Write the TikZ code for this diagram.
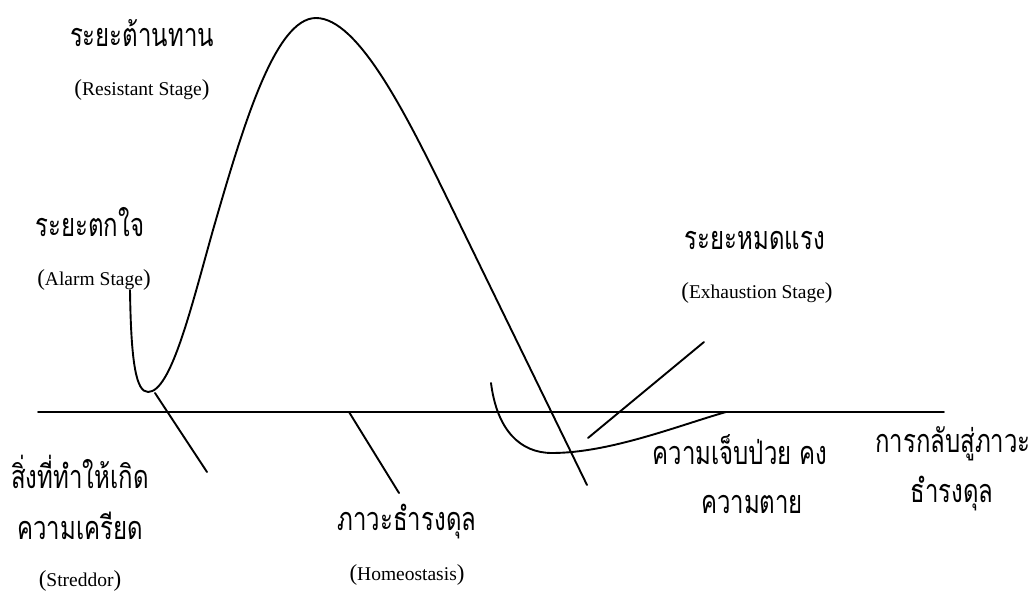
\documentclass[tikz,border=0pt]{standalone}
\usepackage{fontspec}
\usepackage{graphicx}
\setmainfont{Liberation Serif}
\newfontfamily\thai[Script=Thai]{Loma}
\newcommand\pr[1]{{\fontsize{23}{26}\selectfont(}#1{\fontsize{23}{26}\selectfont)}}
\newcommand\T[1]{\scalebox{1}[1.35]{#1}}
\tikzset{
  th/.style={font=\thai\fontsize{24}{28}\selectfont, inner sep=0pt, anchor=base},
  en/.style={font=\fontsize{19.5}{23}\selectfont, inner sep=0pt, anchor=base},
  curve/.style={line width=1.9pt, line join=round, line cap=round},
}
\begin{document}
\begin{tikzpicture}[x=1pt,y=-1pt]
\useasboundingbox (0,0) rectangle (1031,591);
% coordinates
\coordinate (bl) at (38,412);
\coordinate (br) at (944,412);
\coordinate (s1) at (155,393);
\coordinate (s2) at (207,472);
\coordinate (h1) at (349,412);
\coordinate (h2) at (399,493);
\coordinate (e1) at (588,438);
\coordinate (e2) at (704,342);
\coordinate (x0) at (491,383);
\coordinate (x1) at (552,453);
\coordinate (x2) at (726,412);
\coordinate (m0) at (130,290);
\coordinate (m1) at (148,392);
\coordinate (m2) at (213,230);
\coordinate (m3) at (316,18);
\coordinate (m4) at (448,200);
\coordinate (m5) at (587,485);
% baseline
\draw[curve] (bl) -- (br);
% main curve
\draw[curve] (m0) .. controls (131,362) and (136,392) .. (m1)
  .. controls (171,392) and (191,308) .. (m2)
  .. controls (243,126) and (275,18) .. (m3)
  .. controls (358,18) and (406,114) .. (m4) -- (m5);
% exhaustion curve
\draw[curve] (x0) .. controls (497,430) and (520,453) .. (x1) .. controls (610,453) and (680,425) .. (x2);
% pointers
\draw[curve] (s1) -- (s2);
\draw[curve] (h1) -- (h2);
\draw[curve] (e1) -- (e2);
% texts
\node[th] (t1) at (142,47) {\T{ระยะต้านทาน}};
\node[en] (t2) at (142,96) {\pr{Resistant Stage}};
\node[th] (t3) at (90,236) {\T{ระยะตกใจ}};
\node[en] (t4) at (94,285) {\pr{Alarm Stage}};
\node[th] (t5) at (755,249) {\T{ระยะหมดแรง}};
\node[en] (t6) at (757,298) {\pr{Exhaustion Stage}};
\node[th] (t7) at (80,488) {\T{สิ่งที่ทำให้เกิด}};
\node[th] (t8) at (80,539) {\T{ความเครียด}};
\node[en] (t9) at (80,586) {\pr{Streddor}};
\node[th] (t10) at (407,530) {\T{ภาวะธำรงดุล}};
\node[en] (t11) at (407,580) {\pr{Homeostasis}};
\node[th] (t12) at (740,464) {\T{ความเจ็บป่วย คง}};
\node[th] (t13) at (752,513) {\T{ความตาย}};
\node[th] (t14) at (953,452) {\T{การกลับสู่ภาวะ}};
\node[th] (t15) at (952,502) {\T{ธำรงดุล}};
\end{tikzpicture}
\end{document}
